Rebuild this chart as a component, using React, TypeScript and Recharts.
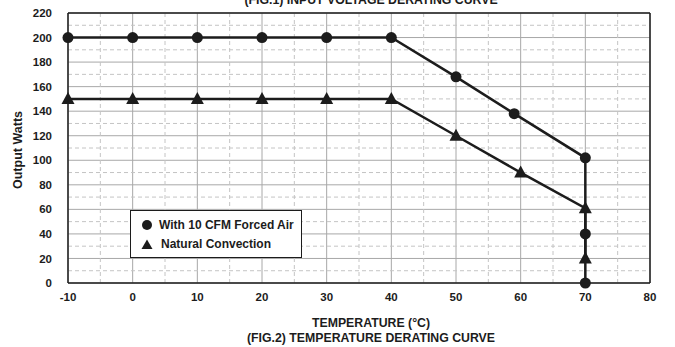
import {
  CartesianGrid,
  Line,
  LineChart,
  ReferenceLine,
  XAxis,
  YAxis,
} from 'recharts';

const forcedAirTemps = [-10, 0, 10, 20, 30, 40, 50, 59, 70, 70, 70];
const forcedAirWatts = [200, 200, 200, 200, 200, 200, 168, 138, 102, 40, 0];

const naturalTemps = [-10, 0, 10, 20, 30, 40, 50, 60, 70, 70];
const naturalWatts = [150, 150, 150, 150, 150, 150, 120, 90, 61, 20];

const xTicks = [-10, 0, 10, 20, 30, 40, 50, 60, 70, 80];
const yTicks = [0, 20, 40, 60, 80, 100, 120, 140, 160, 180, 200, 220];
const xMinor = [-5, 5, 15, 25, 35, 45, 55, 65, 75];
const yMinor = [10, 30, 50, 70, 90, 110, 130, 150, 170, 190, 210];

const forcedAirData = forcedAirTemps.map((t, i) => ({ t, w: forcedAirWatts[i] }));
const naturalData = naturalTemps.map((t, i) => ({ t, w: naturalWatts[i] }));

const FONT = '"Liberation Sans", Arial, sans-serif';
const INK = '#1c1c1c';

function CircleDot(props: any) {
  const { cx, cy, index } = props;
  if (cx == null || cy == null) return null;
  return <circle key={index} cx={cx} cy={cy} r={5.5} fill={INK} />;
}

function TriangleDot(props: any) {
  const { cx, cy, index } = props;
  if (cx == null || cy == null) return null;
  const pts = `${cx},${cy - 7} ${cx - 6.5},${cy + 5} ${cx + 6.5},${cy + 5}`;
  return <polygon key={index} points={pts} fill={INK} />;
}

const tickStyle = { fontFamily: FONT, fontSize: 11.5, fontWeight: 700, fill: INK };

const titleStyle = {
  position: 'absolute' as const,
  left: 0,
  width: 742,
  textAlign: 'center' as const,
  fontSize: 12.3,
  lineHeight: '14px',
  fontWeight: 700,
  color: INK,
  whiteSpace: 'nowrap' as const,
};

export default function App() {
  return (
    <div
      style={{
        position: 'absolute',
        left: 0,
        top: 0,
        width: 675,
        height: 347,
        background: '#fff',
        fontFamily: FONT,
        overflow: 'hidden',
      }}
    >
      <div style={{ ...titleStyle, top: -7 }}>(FIG.1) INPUT VOLTAGE DERATING CURVE</div>
      <LineChart
        width={675}
        height={347}
        margin={{ top: 13, right: 25, left: 8, bottom: 44 }}
      >
        <CartesianGrid stroke="#a8a8a8" strokeWidth={1} />
        {xMinor.map(x => (
          <ReferenceLine
            key={'x' + x}
            x={x}
            stroke="#c4c4c4"
            strokeDasharray="4 3"
          />
        ))}
        {yMinor.map(y => (
          <ReferenceLine
            key={'y' + y}
            y={y}
            stroke="#c4c4c4"
            strokeDasharray="4 3"
          />
        ))}
        <ReferenceLine y={220} stroke={INK} strokeWidth={1.5} />
        <ReferenceLine x={80} stroke={INK} strokeWidth={1.5} />
        <XAxis
          dataKey="t"
          type="number"
          domain={[-10, 80]}
          ticks={xTicks}
          allowDuplicatedCategory={false}
          tick={tickStyle}
          tickLine={false}
          axisLine={{ stroke: INK, strokeWidth: 1.5 }}
          tickMargin={4}
          height={20}
          interval={0}
        />
        <YAxis
          dataKey="w"
          type="number"
          domain={[0, 220]}
          ticks={yTicks}
          tick={tickStyle}
          tickLine={false}
          axisLine={{ stroke: INK, strokeWidth: 1.5 }}
          tickMargin={10}
          width={60}
          interval={0}
        />
        <Line
          data={naturalData}
          dataKey="w"
          type="linear"
          stroke={INK}
          strokeWidth={2.5}
          dot={<TriangleDot />}
          activeDot={false}
          isAnimationActive={false}
        />
        <Line
          data={forcedAirData}
          dataKey="w"
          type="linear"
          stroke={INK}
          strokeWidth={2.5}
          dot={<CircleDot />}
          activeDot={false}
          isAnimationActive={false}
        />
      </LineChart>
      <div
        style={{
          position: 'absolute',
          left: 18,
          top: 150,
          transform: 'translate(-50%, -50%) rotate(-90deg)',
          fontSize: 12.5,
          lineHeight: '14px',
          fontWeight: 700,
          color: INK,
          whiteSpace: 'nowrap',
        }}
      >
        Output Watts
      </div>
      <div
        style={{
          position: 'absolute',
          left: 130,
          top: 210,
          width: 170,
          height: 46,
          border: `1px solid ${INK}`,
          background: '#fff',
          fontSize: 12,
          lineHeight: '14px',
          fontWeight: 700,
          color: INK,
          whiteSpace: 'nowrap',
        }}
      >
        <div style={{ position: 'absolute', left: 10, top: 7, display: 'flex', alignItems: 'center' }}>
          <svg width={12} height={12} style={{ marginRight: 6 }}>
            <circle cx={6} cy={6} r={5} fill={INK} />
          </svg>
          With 10 CFM Forced Air
        </div>
        <div style={{ position: 'absolute', left: 10, top: 26, display: 'flex', alignItems: 'center' }}>
          <svg width={12} height={12} style={{ marginRight: 8 }}>
            <polygon points="6,1.5 0.5,11 11.5,11" fill={INK} />
          </svg>
          Natural Convection
        </div>
      </div>
      <div style={{ ...titleStyle, top: 316 }}>TEMPERATURE (°C)</div>
      <div style={{ ...titleStyle, top: 331 }}>(FIG.2) TEMPERATURE DERATING CURVE</div>
    </div>
  );
}
